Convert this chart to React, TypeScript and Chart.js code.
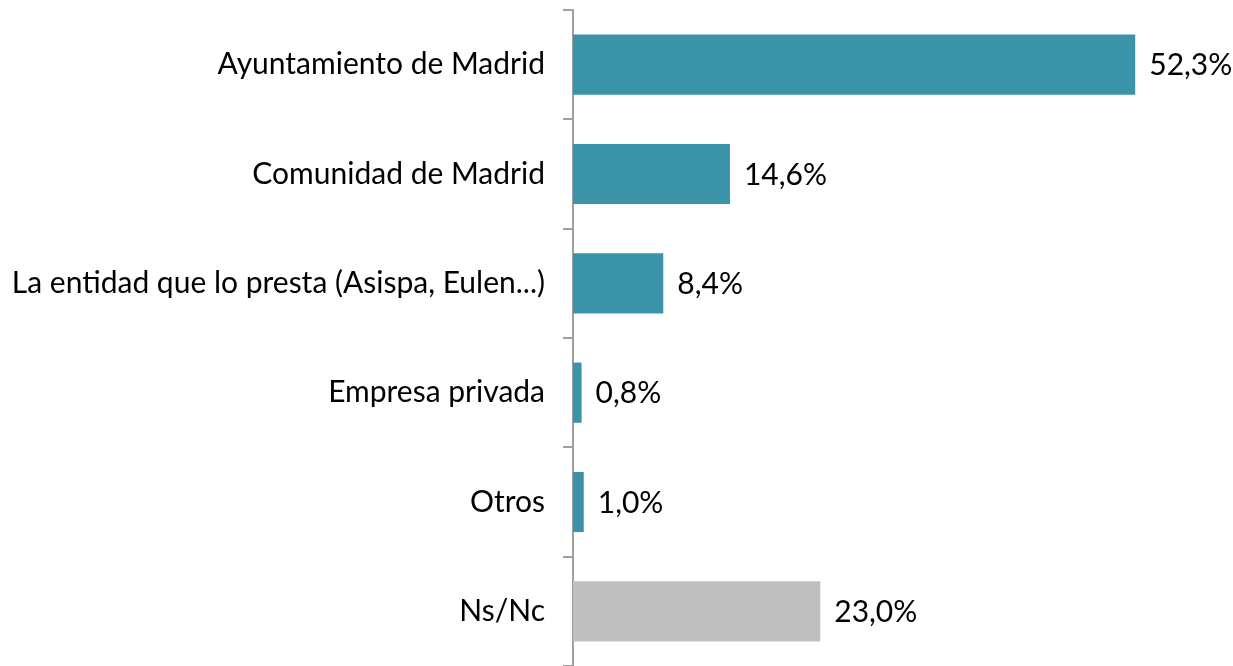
import React, { useEffect, useRef } from "react";
import { Chart, registerables } from "chart.js";

Chart.register(...registerables);

const categories = [
  "Ayuntamiento de Madrid",
  "Comunidad de Madrid",
  "La entidad que lo presta (Asispa, Eulen...)",
  "Empresa privada",
  "Otros",
  "Ns/Nc",
];
const values = [52.3, 14.6, 8.4, 0.8, 1.0, 23.0];
const barColors = ["#3a93a8", "#3a93a8", "#3a93a8", "#3a93a8", "#3a93a8", "#bfbfbf"];

const FONT = "Lato, 'Open Sans', sans-serif";
const FONT_SIZE = 30;

const valueLabels = {
  id: "valueLabels",
  afterDatasetsDraw(chart: any) {
    const ctx = chart.ctx;
    const meta = chart.getDatasetMeta(0);
    ctx.save();
    ctx.font = `${FONT_SIZE}px ${FONT}`;
    ctx.fillStyle = "#000000";
    ctx.textAlign = "left";
    ctx.textBaseline = "middle";
    meta.data.forEach((bar: any, i: number) => {
      const txt = values[i].toFixed(1).replace(".", ",") + "%";
      ctx.fillText(txt, bar.x + 14, bar.y + 1);
    });
    ctx.restore();
  },
};

export default function App() {
  const ref = useRef<HTMLCanvasElement>(null);
  useEffect(() => {
    if (!ref.current) return;
    const chart = new Chart(ref.current, {
      type: "bar",
      data: {
        labels: categories,
        datasets: [
          {
            data: values,
            backgroundColor: barColors,
            borderWidth: 0,
            barPercentage: 0.55,
            categoryPercentage: 1,
          },
        ],
      },
      options: {
        indexAxis: "y",
        animation: false,
        responsive: false,
        maintainAspectRatio: false,
        layout: { autoPadding: false, padding: { top: 10, right: 15, bottom: 0, left: 0 } },
        plugins: { legend: { display: false }, tooltip: { enabled: false } },
        scales: {
          x: { display: false, min: 0, max: 60 },
          y: {
            afterFit(scale: any) {
              scale.width = 573;
              scale.paddingTop = 0;
              scale.paddingBottom = 0;
            },
            border: { display: true, color: "#a0a0a0", width: 2 },
            grid: {
              display: true,
              drawOnChartArea: false,
              drawTicks: true,
              tickLength: 10,
              color: "#a0a0a0",
              lineWidth: 2,
              offset: true,
            },
            ticks: {
              color: "#000000",
              padding: 18,
              font: { family: FONT, size: FONT_SIZE },
            },
          },
        },
      },
      plugins: [valueLabels],
    });
    return () => chart.destroy();
  }, []);
  return (
    <div style={{ position: "fixed", left: 0, top: 0, width: 1233, height: 666, background: "#fff" }}>
      <canvas ref={ref} width={1233} height={666} style={{ width: 1233, height: 666 }} />
    </div>
  );
}
